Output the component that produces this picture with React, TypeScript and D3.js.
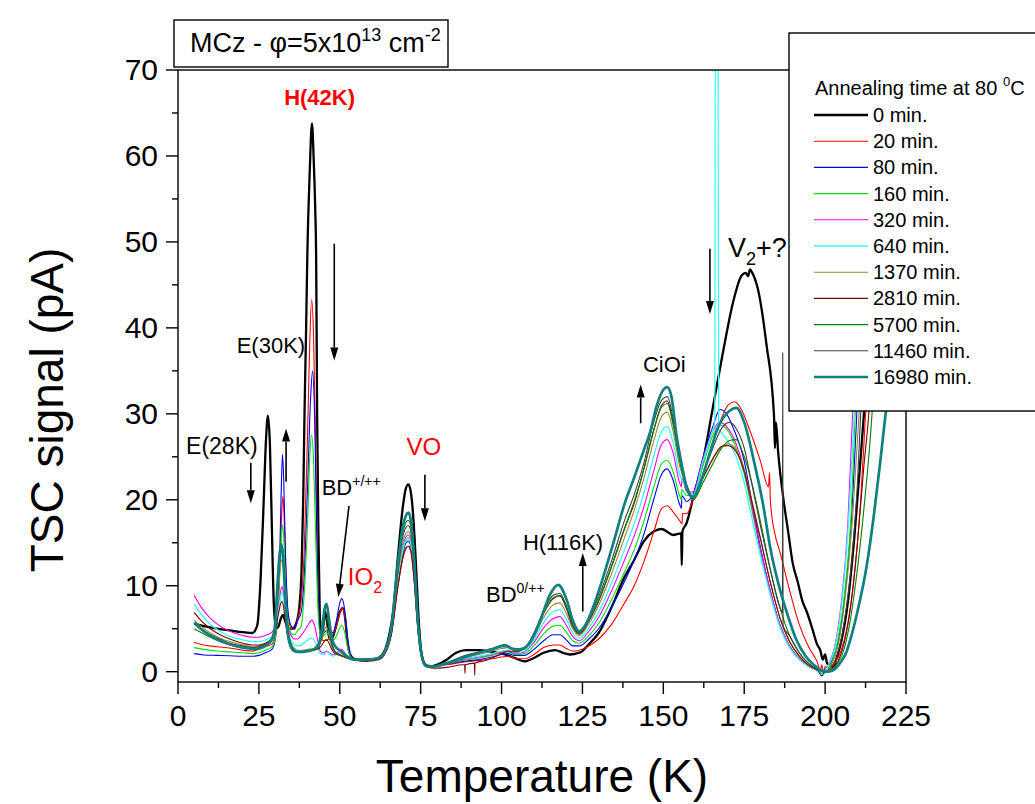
import React from 'react'
import * as d3 from 'd3'

// TSC spectra, MCz, annealing at 80 C  -- [temperature K, signal pA]
const FONT = '"Liberation Sans", Arial, Helvetica, sans-serif'

const min0 = [[5,5.6],[8,5.3],[12,5.0],[16,4.8],[20,4.6],[23,4.5],[24.5,5.4],[25.5,10.5],[26.5,20],[27.2,27],[27.8,29.8],[28.4,26.5],[29,17],[29.6,8],[30.3,5.0],[31,5.2],[31.8,6.2],[32.4,6.6],[33.2,5.8],[34.2,5.0],[35.3,5.0],[36.5,5.6],[37.5,7.5],[38.2,12],[38.7,20],[39.1,30],[39.6,40],[40.0,49],[40.7,58],[41.4,63.8],[41.9,60],[42.4,54],[42.7,48],[43.0,30],[43.4,16],[43.8,7],[44.3,3.8],[44.8,4.8],[45.4,7.0],[46.0,6.0],[46.6,4.2],[47.2,3.7],[48,4.2],[49,5.5],[50,6.9],[50.9,7.4],[51.6,6.4],[52.3,3.8],[53.2,2.0],[54.5,1.5],[57,1.4],[61,1.5],[63,1.9],[65,3.8],[66.5,7],[68,13.5],[69.5,19.2],[70.4,21.3],[71.2,21.8],[72,20.8],[72.8,17.5],[73.6,12],[74.4,6],[75.2,2.3],[76.5,0.8],[78,0.6],[80,0.8],[83,1.4],[86,2.2],[89,2.5],[93,2.5],[97,2.3],[101,2.0],[104,1.6],[107,1.2],[110,1.6],[113,2.2],[116.5,2.5],[119,2.2],[121,2.0],[123,2.1],[125,2.4],[127,3.2],[130,4.5],[134,7.5],[138,11.0],[141,13.0],[144,15.2],[147,16.3],[149.5,16.6],[151.5,16.2],[153,15.9],[155.5,16.1],[155.7,12.4],[155.9,16.3],[157.2,17.3],[159.2,20.2],[162.3,24.6],[165.3,30.7],[168.4,37.1],[171.5,42.9],[174.2,46.1],[175.5,46.4],[176.2,46.0],[176.8,46.8],[177.5,46.4],[179.3,44.4],[181.9,38.0],[184.2,29.8],[184.5,26],[184.8,29],[185.5,25.5],[187,20.4],[188.5,16.5],[190,12.6],[191.5,10.5],[193,8.2],[194.5,6.8],[196.2,4.8],[197.5,3.2],[198.5,2.5],[199.3,1.4],[200,2.0],[200.7,0.9],[201.5,0.9],[202.5,0.5],[203.5,1.5],[205,3.5],[207,8],[209,15.5],[211,25],[212,30],[213.5,38],[215,46]]

const min20 = [[5,3.4],[8,3.1],[12,2.9],[16,2.75],[20,2.5],[23,2.4],[25,2.6],[27,2.9],[29,3.2],[30,4.2],[31,8],[31.6,13],[32.0,18],[32.4,20.4],[32.8,18],[33.3,12],[34,6.8],[35,5.0],[36,4.9],[37,6.2],[38,8],[39,14],[40,27],[40.7,38],[41.3,43.3],[41.9,39],[42.5,27],[43,15],[43.5,7],[44.1,4.0],[45,3.6],[46,3.7],[47,3.9],[48,4.4],[49,5.4],[50,6.8],[50.8,7.4],[51.6,6.3],[52.4,3.6],[53.3,1.9],[54.5,1.4],[58,1.3],[62,1.5],[64,2.2],[66,4.5],[68,10],[69.5,13.2],[70.5,14.4],[71.2,14.6],[72,13.9],[73,10.5],[74,5.5],[75,2.2],[76.5,0.7],[79,0.6],[83,0.8],[88,1.1],[93,1.3],[97,1.5],[100,1.7],[102,1.8],[104,1.6],[107,1.5],[110,2.0],[113,2.8],[116,3.1],[118,3.1],[120,2.7],[122,2.4],[124,2.5],[127,3.0],[130,3.8],[134,5.5],[138,8.0],[141,10.0],[144,12.8],[147,16.2],[149.5,19.0],[151.2,19.3],[153,18.6],[155,17.6],[155.8,17.2],[155.9,18.4],[157.2,18.4],[159.2,20.0],[162.3,23.0],[165.3,26.5],[168,29.5],[170,31.0],[172,31.4],[174,30.6],[177,27.8],[180,24.5],[182.5,21.5],[182.8,23.2],[183.1,19.8],[184.5,16],[186,14],[189,9.5],[192,5.5],[195,2.8],[197.5,1.2],[198.5,0.2],[199,0.8],[199.5,-0.2],[200,0.6],[201,0.4],[203,1.0],[205,2.5],[207,5.5],[209,11],[211,20],[212.5,30],[214,40]]

const min80 = [[5,2.1],[8,1.95],[12,1.9],[16,1.85],[20,1.8],[23,1.8],[25,1.9],[27,2.2],[29,2.6],[30,3.6],[30.8,7],[31.4,13],[31.9,21],[32.3,25.3],[32.7,22],[33.2,14],[34,7],[35,5.3],[36,5.0],[37,6.0],[38,6.8],[39,11],[40,21],[41,32],[41.6,35],[42.2,30],[42.8,18],[43.3,9],[44,4.8],[45,4.5],[46,4.8],[47,4.5],[48,4.6],[49,6.0],[50,8.0],[50.6,8.5],[51.4,7.5],[52.3,4.2],[53.3,2.0],[54.5,1.4],[58,1.3],[62,1.5],[64,2.2],[66,4.6],[68,10.5],[69.5,13.8],[70.5,15.0],[71.2,15.2],[72,14.5],[73,11],[74,5.8],[75,2.3],[76.5,0.7],[79,0.6],[83,0.9],[88,1.2],[93,1.4],[97,1.7],[100,2.0],[102,2.1],[104,1.9],[107,1.9],[110,2.6],[113,3.6],[116,4.3],[118,4.3],[120,3.7],[122,3.0],[124,3.0],[127,3.8],[130,5.0],[134,7.5],[138,10.5],[141,13.0],[144,16.0],[147,20.0],[149.5,23.0],[151.2,23.6],[153,22.3],[155,19.5],[155.6,19.0],[155.7,20.5],[157.2,19.8],[159.2,20.7],[162.3,25.0],[165.3,28.5],[167.5,30.5],[169.5,30.0],[172,28.0],[175,24.5],[177,20.5],[180,14.5],[183,9.5],[186,5.5],[189,3.0],[192,1.5],[195,0.6],[198,0.0],[199,-0.5],[200,0.2],[202,1.2],[204,3.5],[206,8.5],[208,17],[209.8,30],[211,40]]

const min160 = [[5,2.8],[8,2.6],[12,2.4],[16,2.3],[20,2.2],[23,2.1],[25,2.2],[27,2.5],[29,2.9],[30,3.8],[30.8,6.5],[31.5,12],[32,16],[32.3,17.1],[32.7,15.5],[33.2,10.5],[34,6],[35,4.5],[36,4.3],[37,4.8],[38,5.2],[39,9],[40,17],[40.8,25.5],[41.3,27.5],[41.9,24.5],[42.6,15],[43.3,7],[44,4.2],[45,4.2],[46,4.5],[47,4.1],[48,3.7],[49,4.2],[50,5.1],[50.6,5.4],[51.5,4.6],[52.4,2.8],[53.4,1.7],[54.5,1.4],[58,1.3],[62,1.5],[64,2.2],[66,4.7],[68,10.8],[69.5,14.1],[70.5,15.3],[71.2,15.5],[72,14.8],[73,11.2],[74,5.9],[75,2.3],[76.5,0.7],[79,0.6],[83,0.9],[88,1.3],[93,1.6],[97,1.9],[100,2.2],[102,2.3],[104,2.0],[107,2.1],[110,3.0],[113,4.4],[116,5.3],[118,5.4],[120,4.6],[122,3.6],[124,3.3],[127,4.2],[130,5.6],[134,8.4],[138,11.6],[141,14.2],[144,17.5],[147,21.4],[149.5,24.2],[151.2,24.6],[153,23.3],[155,20.5],[155.6,20.0],[155.7,21.2],[157.2,20.5],[159.2,20.5],[162.3,24.0],[165.3,27.5],[167.5,28.7],[170,28.0],[172.5,26.0],[175,23.0],[177,19.5],[180,14.0],[183,9.2],[186,5.5],[189,3.0],[192,1.5],[195,0.6],[198,0.1],[199.5,-0.3],[200.5,0.3],[202,1.0],[204,3.8],[206,9],[208,18],[209.3,30],[210.5,40]]

const min320 = [[5,8.9],[7,7.6],[10,6.2],[13,5.3],[16,4.7],[20,4.2],[23,4.0],[25,4.0],[27,4.2],[29,4.6],[30,5.2],[31,7.5],[31.7,9.3],[32.1,9.9],[32.6,9.2],[33.3,7],[34,5.2],[35,4.2],[36,3.8],[37,3.8],[38,4.2],[39.5,5.0],[40.5,5.6],[41.3,6.0],[42.2,5.4],[43.2,3.6],[44,2.4],[45,2.2],[46,2.4],[47,2.1],[48,2.0],[49,2.2],[50,2.5],[50.6,2.6],[51.5,2.2],[52.5,1.7],[54,1.4],[58,1.3],[62,1.5],[64,2.2],[66,4.8],[68,11.0],[69.5,14.5],[70.5,15.7],[71.2,15.9],[72,15.2],[73,11.5],[74,6.0],[75,2.3],[76.5,0.7],[79,0.6],[83,1.0],[88,1.4],[93,1.7],[97,2.0],[100,2.3],[102,2.4],[104,2.1],[107,2.3],[110,3.4],[113,5.1],[116,6.2],[118,6.4],[120,5.4],[122,4.1],[124,3.6],[127,4.7],[130,6.3],[134,9.4],[138,13.0],[141,15.8],[144,19.2],[147,23.3],[149.5,26.5],[151.2,27.0],[153,25.5],[155,22.0],[155.6,21.5],[155.7,22.5],[157.2,21.0],[159.2,20.9],[162.3,24.8],[165.3,28.0],[167.5,29.0],[170,28.3],[172.5,26.5],[175,23.5],[177,20.0],[180,14.2],[183,9.5],[186,5.5],[189,3.0],[192,1.5],[195,0.6],[198,0.2],[199.5,0.0],[201,0.8],[203,3.0],[205,8],[207,17],[208.5,30],[210,42]]

const min640 = [[5,7.9],[7,6.8],[10,5.5],[13,4.7],[16,4.1],[20,3.7],[23,3.5],[25,3.5],[27,3.7],[29,4.1],[30,4.8],[31,7.0],[31.7,8.7],[32.1,9.2],[32.6,8.6],[33.3,6.5],[34,4.7],[35,3.6],[36,3.1],[37,3.0],[38,3.1],[39.5,3.5],[40.5,3.8],[41.3,3.9],[42.2,3.6],[43.2,2.7],[44,2.1],[45,2.0],[46,2.3],[47,2.0],[48,1.8],[49,2.0],[50,2.2],[50.6,2.2],[51.5,1.9],[52.5,1.6],[54,1.4],[58,1.3],[62,1.5],[64,2.2],[66,4.8],[68,10.8],[69.5,14.2],[70.5,15.4],[71.2,15.6],[72,14.9],[73,11.3],[74,5.9],[75,2.3],[76.5,0.7],[79,0.6],[83,1.0],[88,1.5],[93,1.8],[97,2.1],[100,2.4],[102,2.5],[104,2.2],[107,2.4],[110,3.7],[113,5.7],[116,7.0],[118,7.2],[120,6.1],[122,4.5],[124,3.9],[127,5.1],[130,6.9],[134,10.3],[138,14.2],[141,17.2],[144,20.8],[147,25.0],[149.5,28.0],[151.2,28.5],[153,26.7],[155,23.0],[157.2,21.3],[159.2,20.6],[162.3,24.5],[165.0,27.8],[165.9,29.0],[166.1,80],[166.9,80],[167.1,28.2],[168,27.8],[170,26.8],[172.5,25.0],[175,22.0],[177,18.5],[180,13.5],[183,9.0],[186,5.2],[189,2.8],[192,1.4],[195,0.6],[198,0.2],[199.5,0.0],[201,0.7],[203,2.8],[205,7.5],[207,16],[209,30],[210.5,42]]

const min1370 = [[5,6.0],[7,5.3],[10,4.5],[13,3.9],[16,3.5],[20,3.1],[23,2.9],[25,3.0],[27,3.3],[29,3.9],[30,5.2],[31,9.5],[31.7,12.6],[32.0,13.0],[32.5,12.2],[33.3,8],[34,5],[35,3.3],[36,2.7],[37,2.5],[38,2.5],[40,2.6],[42,2.7],[43.5,3.0],[44.5,3.8],[45.3,4.9],[45.9,5.2],[46.6,4.4],[47.5,3.0],[48.5,2.3],[50,2.0],[51.5,1.8],[53,1.5],[55,1.4],[58,1.3],[62,1.5],[64,2.2],[66,4.9],[68,11.3],[69.5,15],[70.5,16.1],[71.2,16.3],[72,15.6],[73,11.8],[74,6.1],[75,2.4],[76.5,0.7],[79,0.6],[83,1.0],[88,1.6],[93,2.0],[97,2.4],[100,2.7],[102,2.8],[104,2.4],[107,2.6],[110,4.0],[113,6.3],[116,7.8],[118,8.0],[120,6.8],[122,5.0],[124,4.2],[127,5.6],[130,7.7],[134,11.4],[138,15.6],[141,18.8],[144,22.5],[147,26.8],[149.5,29.7],[151.2,30.2],[153,28.0],[155,24.0],[157.2,21.5],[159.2,20.2],[162.3,22.5],[165.3,24.7],[168,26.2],[170,26.5],[172.5,25.8],[175,23.5],[177,20.5],[180,15.5],[183,10.5],[186,6.3],[189,3.5],[192,1.8],[195,0.7],[198,0.2],[200,0.0],[202,0.8],[204,3.0],[206,8],[208.5,18],[210.5,30],[212,40]]

const min2810 = [[5,6.9],[7,6.0],[10,5.0],[13,4.3],[16,3.8],[20,3.3],[23,3.1],[25,3.1],[27,3.3],[29,3.8],[30,4.6],[31,6.6],[31.7,7.9],[32.1,8.2],[32.6,7.6],[33.3,5.5],[34,3.9],[35,2.9],[36,2.4],[37,2.3],[38,2.3],[40,2.4],[42,2.5],[43.5,2.7],[44.5,3.1],[45.3,3.6],[45.9,3.7],[46.6,3.4],[47.5,2.6],[48.5,2.1],[50,1.9],[51.5,1.7],[53,1.5],[55,1.3],[58,1.2],[62,1.4],[64,2.1],[66,4.4],[68,10],[69.5,13.3],[70.5,14.4],[71.2,14.6],[72,14.0],[73,10.6],[74,5.5],[75,2.1],[76.5,0.6],[79,0.4],[83,0.5],[88,0.8],[88.6,0.8],[88.7,-0.2],[88.8,0.8],[91.6,1.0],[91.7,-0.4],[91.8,1.0],[95,1.3],[100,2.1],[102,2.4],[104,2.3],[107,2.7],[110,4.3],[113,6.8],[116,8.5],[118,8.8],[120,7.4],[122,5.3],[124,4.4],[127,5.9],[130,8.2],[134,12.2],[138,16.6],[141,19.6],[144,23.6],[147,28.0],[149.5,31.0],[151.2,31.5],[153,29.0],[155,24.8],[157.2,21.6],[159.2,20.2],[162.3,22.6],[165.3,24.8],[168,26.2],[170,26.3],[172.5,25.6],[175,23.3],[177,20.3],[180,15.5],[183,10.5],[186,6.3],[189,3.5],[192,1.8],[195,0.7],[198,0.2],[200,0.0],[202,0.3],[204,1.2],[206,3.5],[208,8],[210,15],[212,24],[213.5,30],[215,40]]

const min5700 = [[5,5.0],[7,4.6],[10,4.0],[13,3.5],[16,3.1],[20,2.8],[23,2.7],[25,2.8],[27,3.1],[29,3.8],[30,5.5],[31,11],[31.7,14.5],[32.0,14.9],[32.5,13.8],[33.3,8.5],[34,5],[35,3.1],[36,2.5],[37,2.3],[38,2.3],[40,2.4],[42,2.5],[43.5,2.9],[44.5,4.2],[45.3,5.9],[45.9,6.2],[46.6,5.2],[47.5,3.2],[48.5,2.3],[50,1.9],[51.5,1.7],[53,1.5],[55,1.4],[58,1.3],[62,1.5],[64,2.3],[66,5.2],[68,12.2],[69.5,16.2],[70.5,17.4],[71.2,17.6],[72,16.8],[73,12.6],[74,6.4],[75,2.5],[76.5,0.7],[79,0.6],[83,1.0],[88,1.7],[93,2.2],[97,2.6],[100,2.9],[102,2.9],[104,2.5],[107,2.7],[110,4.3],[113,6.9],[116,8.6],[118,8.9],[120,7.5],[122,5.4],[124,4.4],[127,6.0],[130,8.3],[134,12.3],[138,16.7],[141,19.8],[144,23.6],[147,28.1],[149.5,30.8],[151.2,31.2],[153,28.8],[155,24.6],[157.2,21.5],[159.2,20.0],[162.3,22.0],[165.3,24.2],[168,26.0],[170.5,26.9],[172.5,27.0],[175,25.0],[177,22.5],[180,17.5],[183,12.0],[186,7.5],[189,4.2],[192,2.2],[195,0.9],[198,0.2],[200,-0.1],[202,0.3],[204,1.0],[206,2.8],[208,6.5],[210,12],[212,19],[214.5,30],[216,40]]

const min11460 = [[5,5.5],[7,5.0],[10,4.3],[13,3.8],[16,3.3],[20,3.0],[23,2.8],[25,2.9],[27,3.2],[29,3.9],[30,5.4],[31,10.5],[31.7,13.8],[32.0,14.1],[32.5,13.0],[33.3,8],[34,4.8],[35,3.0],[36,2.5],[37,2.3],[38,2.3],[40,2.4],[42,2.6],[43.5,3.0],[44.5,4.6],[45.3,6.5],[45.9,6.8],[46.6,5.6],[47.5,3.4],[48.5,2.4],[50,2.0],[51.5,1.7],[53,1.5],[55,1.4],[58,1.3],[62,1.5],[64,2.3],[66,5.0],[68,11.8],[69.5,15.7],[70.5,16.8],[71.2,17.0],[72,16.2],[73,12.2],[74,6.2],[75,2.4],[76.5,0.7],[79,0.6],[83,1.0],[88,1.8],[93,2.3],[97,2.7],[100,3.0],[102,3.0],[104,2.6],[107,2.8],[110,4.5],[113,7.1],[116,8.9],[118,9.1],[120,7.7],[122,5.5],[124,4.5],[127,6.2],[130,8.7],[134,12.9],[138,17.6],[141,20.6],[144,24.3],[147,29.0],[149.5,31.6],[151.2,32.0],[153,29.5],[155,25.0],[157.2,21.8],[159.2,20.3],[162.3,23.0],[165.3,26.0],[168,28.3],[170.5,29.0],[172.5,28.3],[175,26.0],[177,22.5],[180,17.0],[183,12.0],[186,7.5],[186.8,6.9],[186.9,37.1],[187.0,5.3],[189,4.2],[192,2.2],[195,0.9],[198,0.2],[200,0.0],[202,0.6],[204,2.2],[206,6],[208,12],[210,22],[211,30],[212.5,40]]

const min16980 = [[5,5.7],[7,5.0],[10,4.2],[13,3.6],[16,3.2],[20,2.8],[23,2.65],[25,2.7],[27,3.0],[29,3.7],[30,5.5],[30.8,10.5],[31.5,14],[32.0,14.6],[32.6,12.5],[33.3,7.5],[34,4.3],[35,2.8],[36,2.4],[37,2.3],[38,2.3],[40,2.4],[42,2.6],[43.5,3.2],[44.5,5.0],[45.3,7.3],[45.9,7.9],[46.6,6.3],[47.5,4.0],[48.5,3.0],[50,2.5],[51.5,2.0],[53,1.6],[55,1.4],[58,1.4],[62,1.6],[64,2.4],[66,5.3],[68,12.7],[69.5,16.9],[70.5,18.2],[71.2,18.5],[72,17.6],[73,13.2],[74,6.7],[75,2.6],[76.5,0.7],[79,0.6],[83,1.0],[88,1.6],[93,2.2],[97,2.6],[100,3.0],[101,3.1],[103,2.7],[106,2.6],[109,3.5],[112,6.0],[115,9.0],[117.5,10.1],[120,8.5],[122,6.0],[124,4.7],[126,5.5],[128,7.2],[131,10.5],[134.5,14.9],[138,19.5],[141,22.6],[144,25.8],[146,28.0],[148,31.0],[150,32.8],[151.2,33.1],[152.5,32.0],[154,27.7],[156,23.5],[157.5,21.0],[159.2,20.3],[161,21.5],[164,25.0],[167,28.5],[170,30.2],[172.6,30.7],[175,29.0],[178,24.5],[180.8,19.5],[183,14.5],[186,9.6],[188.5,6.5],[191,3.8],[194,1.8],[196.2,0.9],[199.3,0.1],[201,0.0],[203,0.3],[205,1.2],[206.6,2.3],[208,4],[210,7],[212.8,12.2],[215,18],[217,24.3],[219,31],[221,38]]

const seriesData = [min0, min20, min80, min160, min320, min640, min1370, min2810, min5700, min11460, min16980]
const seriesLabels = ['0 min.', '20 min.', '80 min.', '160 min.', '320 min.', '640 min.', '1370 min.', '2810 min.', '5700 min.', '11460 min.', '16980 min.']
const seriesColors = ['#000000', '#ff0000', '#0000ff', '#00e000', '#ff00ff', '#33ffff', '#8c8c3c', '#800000', '#008000', '#404040', '#108080']
const seriesWidths = [2.3, 1.1, 1.1, 1.1, 1.1, 1.3, 1.1, 1.1, 1.1, 1.1, 2.7]

const xTicks = [0, 25, 50, 75, 100, 125, 150, 175, 200, 225]
const yTicks = [0, 10, 20, 30, 40, 50, 60, 70]

// arrows [T1, s1, T2, s2], head at the second point
const arrows = [
  [22.5, 24.3, 22.5, 19.6],
  [33.4, 22.1, 33.4, 28.3],
  [48.3, 49.8, 48.3, 36.2],
  [52.85, 19.3, 49.55, 8.7],
  [76.3, 22.9, 76.3, 17.5],
  [125.1, 7.0, 125.1, 13.8],
  [143.0, 28.9, 143.0, 33.4],
  [164.4, 49.2, 164.4, 41.6],
]

const plot = { left: 178, right: 906, top: 70, bottom: 682 }
const x = d3.scaleLinear().domain([0, 225]).range([plot.left, plot.right])
const y = d3.scaleLinear().domain([-1.2, 70]).range([plot.bottom, plot.top])

const line = d3.line<number[]>()
  .x(d => x(d[0]))
  .y(d => y(d[1]))
  .curve(d3.curveMonotoneX)

function Arrow({ a }: { a: number[] }) {
  const x1 = x(a[0]), y1 = y(a[1]), x2 = x(a[2]), y2 = y(a[3])
  const ang = Math.atan2(y2 - y1, x2 - x1)
  const len = 13, half = 4
  const bx = x2 - len * Math.cos(ang), by = y2 - len * Math.sin(ang)
  const px = -Math.sin(ang) * half, py = Math.cos(ang) * half
  return (
    <g>
      <line x1={x1} y1={y1} x2={bx} y2={by} stroke="#000" strokeWidth={1.6} />
      <path d={`M${x2},${y2}L${bx + px},${by + py}L${bx - px},${by - py}Z`} fill="#000" />
    </g>
  )
}

export default function App() {
  const minorX = d3.range(12.5, 225, 25)
  const minorY = d3.range(5, 70, 10)
  return (
    <svg width={1035} height={804} style={{ position: 'absolute', left: 0, top: 0, background: '#fff' }}
      fontFamily={FONT}>
      <defs>
        <clipPath id="plotClip">
          <rect x={plot.left} y={plot.top} width={plot.right - plot.left} height={plot.bottom - plot.top} />
        </clipPath>
      </defs>
      <rect x={0} y={0} width={1035} height={804} fill="#fff" />

      {/* curves */}
      <g clipPath="url(#plotClip)" fill="none" strokeLinejoin="round">
        {seriesData.map((s, i) => (
          <path key={i} d={line(s) || ''} stroke={seriesColors[i]} strokeWidth={seriesWidths[i]} />
        ))}
      </g>

      {/* frame + ticks */}
      <rect x={plot.left} y={plot.top} width={plot.right - plot.left} height={plot.bottom - plot.top}
        fill="none" stroke="#000" strokeWidth={1.4} />
      {xTicks.map(t => (
        <g key={'xt' + t}>
          <line x1={x(t)} x2={x(t)} y1={plot.bottom} y2={plot.bottom + 12} stroke="#000" strokeWidth={1.4} />
          <text x={x(t)} y={726} fontSize={30} textAnchor="middle">{t}</text>
        </g>
      ))}
      {minorX.map(t => (
        <line key={'xm' + t} x1={x(t)} x2={x(t)} y1={plot.bottom} y2={plot.bottom + 6} stroke="#000" strokeWidth={1.4} />
      ))}
      {yTicks.map(t => (
        <g key={'yt' + t}>
          <line x1={plot.left - 12} x2={plot.left} y1={y(t)} y2={y(t)} stroke="#000" strokeWidth={1.4} />
          <text x={158} y={y(t)} dy="0.33em" fontSize={30} textAnchor="end">{t}</text>
        </g>
      ))}
      {minorY.map(t => (
        <line key={'ym' + t} x1={plot.left - 6} x2={plot.left} y1={y(t)} y2={y(t)} stroke="#000" strokeWidth={1.4} />
      ))}

      <text x={542} y={792} fontSize={46} textAnchor="middle">Temperature (K)</text>
      <text transform="translate(63,410) rotate(-90)" fontSize={46} textAnchor="middle">TSC signal (pA)</text>

      {/* annotations */}
      <g fontSize={22}>
        <text x={x(2.5)} y={y(25.3)} fontSize={23}>E(28K)</text>
        <text x={x(39.3)} y={y(37.1)} textAnchor="end">E(30K)</text>
        <text x={x(32.8)} y={y(65.9)} fill="#ff0000" fontWeight="bold">H(42K)</text>
        <text x={x(44.4)} y={y(20.6)}>BD<tspan dy={-9} fontSize={14}>+/++</tspan></text>
        <text x={x(52.5)} y={y(10.1)} fill="#ff0000" fontSize={24}>IO<tspan dy={8} fontSize={16}>2</tspan></text>
        <text x={x(70.6)} y={y(25.2)} fill="#ff0000" fontSize={24}>VO</text>
        <text x={x(95.2)} y={y(8.1)}>BD<tspan dy={-9} fontSize={14}>0/++</tspan></text>
        <text x={x(106.6)} y={y(14.2)}>H(116K)</text>
        <text x={x(143.7)} y={y(34.9)}>CiOi</text>
        <text x={x(170.0)} y={y(48.2)} fontSize={27}>V<tspan dy={8} fontSize={18}>2</tspan><tspan dy={-8}>+?</tspan></text>
      </g>
      {arrows.map((a, i) => <Arrow key={i} a={a} />)}

      {/* sample box */}
      <rect x={174} y={20} width={274} height={47} fill="#fff" stroke="#000" strokeWidth={1.4} />
      <text x={190} y={52} fontSize={27}>MCz - φ=5x10<tspan dy={-11} fontSize={18}>13</tspan><tspan dy={11}> cm</tspan><tspan dy={-11} fontSize={18}>-2</tspan></text>

      {/* legend */}
      <rect x={789} y={33} width={270} height={378} fill="#fff" stroke="#000" strokeWidth={1.4} />
      <text x={815} y={95} fontSize={20}>Annealing time at 80 <tspan dy={-9} fontSize={13}>0</tspan><tspan dy={9}>C</tspan></text>
      {seriesLabels.map((lab, i) => {
        const ly = 115 + i * 26.2
        return (
          <g key={lab}>
            <line x1={814} x2={868} y1={ly} y2={ly} stroke={seriesColors[i]} strokeWidth={seriesWidths[i]} />
            <text x={873} y={ly} dy="0.35em" fontSize={20}>{lab}</text>
          </g>
        )
      })}
    </svg>
  )
}
